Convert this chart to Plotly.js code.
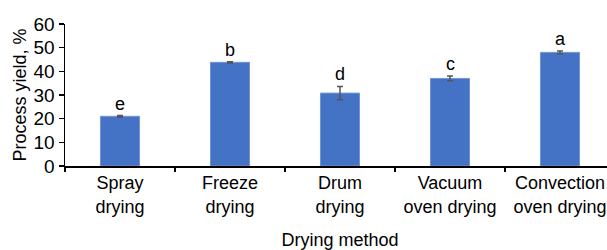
<!DOCTYPE html>
<html><head><meta charset="utf-8">
<script src="https://cdn.plot.ly/plotly-3.0.1.min.js"></script>
<style>html,body{margin:0;padding:0;overflow:hidden;background:#fff}</style>
</head><body>
<div id="chart"></div>
<script>
const categories = ["Spray<br>drying", "Freeze<br>drying", "Drum<br>drying", "Vacuum<br>oven drying", "Convection<br>oven drying"];
const yieldValues = [21.0, 43.8, 30.8, 37.0, 48.0];
const yieldErrors = [0.3, 0.3, 2.8, 1.0, 0.6];
const letters = ["e", "b", "d", "c", "a"];

const font = "Liberation Sans, Arial, sans-serif";

const trace = {
  type: "bar",
  x: categories,
  y: yieldValues,
  width: 0.355,
  marker: {color: "#4472C4", line: {color: "#7393d0", width: 1}},
  error_y: {type: "data", array: yieldErrors, visible: true, color: "#555555", thickness: 1.5, width: 3}
};

const annotations = categories.map((c, i) => ({
  x: c, y: yieldValues[i] + yieldErrors[i], xref: "x", yref: "y",
  text: letters[i], showarrow: false, yanchor: "bottom", yshift: 0,
  font: {family: font, size: 18, color: "#000"}
}));

const layout = {
  width: 620, height: 250,
  margin: {l: 65, r: 5, t: 24, b: 84},
  paper_bgcolor: "#fff", plot_bgcolor: "#fff",
  showlegend: false,
  font: {family: font, size: 18, color: "#000"},
  xaxis: {
    range: [-0.5, 4.5],
    showline: true, linecolor: "#000", linewidth: 1.5,
    ticks: "outside", tickson: "boundaries", ticklen: 4, tickcolor: "#000", tickwidth: 1.5,
    showgrid: false, zeroline: false,
    tickfont: {family: font, size: 18, color: "#000"},
    title: {text: "Drying method", font: {family: font, size: 18, color: "#000"}, standoff: 20}
  },
  yaxis: {
    range: [0, 60], dtick: 10,
    showline: true, linecolor: "#000", linewidth: 1.5,
    ticks: "outside", ticklen: 5, tickcolor: "#000", tickwidth: 1.5,
    showgrid: false, zeroline: false,
    tickfont: {family: font, size: 19, color: "#000"},
    title: {text: "Process yield, %", font: {family: font, size: 18, color: "#000"}, standoff: 2}
  },
  annotations: annotations
};

Plotly.newPlot("chart", [trace], layout, {displayModeBar: false, staticPlot: true});
</script>
</body></html>
